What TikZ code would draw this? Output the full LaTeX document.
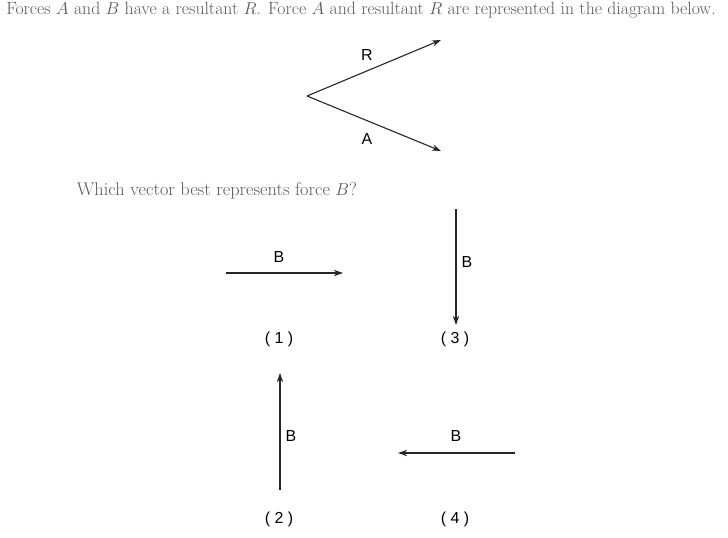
\documentclass[tikz,border=0pt]{standalone}
\usepackage{fontspec}
\usepackage{tikz}
\usetikzlibrary{arrows.meta,positioning}
\newfontfamily\labelfont{Liberation Sans}

\begin{document}
\begin{tikzpicture}[
    x=1bp, y=-1bp,
    question/.style={font=\fontsize{17.8}{20}\selectfont, text=black!65, inner sep=0pt},
    lbl/.style={font=\labelfont\fontsize{16}{18}\selectfont, inner sep=0pt},
    thin arrow/.style={-{Stealth[length=3.2mm, width=2.2mm]}, line width=1.1pt, black!85},
    vec/.style={-{Stealth[length=3.2mm, width=2.2mm]}, line width=1.8pt, black!85}
]
  \useasboundingbox (0,0) rectangle (728,538);

  % Question text
  \node[question] (intro) at (361,10) {Forces $A$ and $B$ have a resultant $R$. Force $A$ and resultant $R$ are represented in the diagram below.};

  % Given forces
  \coordinate (o) at (307,96);
  \coordinate (rtip) at (441,40);
  \coordinate (atip) at (441,151);
  \node[lbl] (rlbl) at (367,55) {R};
  \node[lbl] (albl) at (367,139) {A};
  \draw[thin arrow] (o) -- (rtip);
  \draw[thin arrow] (o) -- (atip);

  % Which vector
  \node[question, font=\fontsize{18.4}{20}\selectfont] (ask) at (217,191) {Which vector best represents force $B$?};

  % Choice 1
  \coordinate (s1) at (226,273);
  \coordinate (e1) at (343,273);
  \node[lbl] (b1) at (279,257) {B};
  \node[lbl] (c1) at (279,339) {( 1 )};
  \draw[vec] (s1) -- (e1);

  % Choice 3
  \coordinate (s3) at (456,209);
  \coordinate (e3) at (456,325);
  \node[lbl] (b3) at (467,262) {B};
  \node[lbl] (c3) at (455,339) {( 3 )};
  \draw[vec] (s3) -- (e3);

  % Choice 2
  \coordinate (s2) at (280,490);
  \coordinate (e2) at (280,373);
  \node[lbl] (b2) at (291,436) {B};
  \node[lbl] (c2) at (279,519) {( 2 )};
  \draw[vec] (s2) -- (e2);

  % Choice 4
  \coordinate (s4) at (515,453);
  \coordinate (e4) at (398,453);
  \node[lbl] (b4) at (456,436) {B};
  \node[lbl] (c4) at (455,519) {( 4 )};
  \draw[vec] (s4) -- (e4);

\end{tikzpicture}
\end{document}
